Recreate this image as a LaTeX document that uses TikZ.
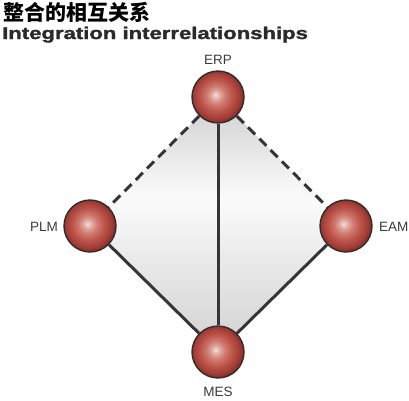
\documentclass[tikz,border=0pt]{standalone}
\usepackage{graphicx}
\usepackage{fontspec}
\setmainfont{Liberation Sans}
\newfontfamily\cjk{Noto Sans CJK SC}
\newfontfamily\heavyfont{Liberation Sans Bold}[FakeBold=1.5]
\definecolor{linegray}{HTML}{353535}
\definecolor{labelgray}{HTML}{3A3A3A}
\definecolor{ballline}{HTML}{2E2E2E}
\definecolor{titlegray}{HTML}{2A2A2A}
\definecolor{bhi}{HTML}{F7E6E2}
\definecolor{bb1}{HTML}{E6B3AB}
\definecolor{bb2}{HTML}{CF7A70}
\definecolor{bb3}{HTML}{BB5249}
\definecolor{bb4}{HTML}{A23D35}
\definecolor{bb5}{HTML}{8A2E28}
\pgfdeclareradialshading{redball}{\pgfpoint{-2.5bp}{2bp}}{%
  color(0bp)=(bhi);
  color(3bp)=(bb1);
  color(9bp)=(bb2);
  color(16bp)=(bb3);
  color(22bp)=(bb4);
  color(25bp)=(bb5);
  color(50bp)=(bb5)}
\pgfdeclareverticalshading{diamondsh}{100bp}{%
  color(0bp)=(black!18);
  color(25bp)=(black!18);
  color(44bp)=(black!8);
  color(54bp)=(black!2);
  color(57bp)=(black!3);
  color(67bp)=(black!12);
  color(75bp)=(black!19);
  color(100bp)=(black!19)}
\tikzset{
  ball/.style={circle, minimum size=52pt, inner sep=0pt, draw=ballline,
    line width=1.4pt, shading=redball},
  lbl/.style={inner sep=0pt, text=labelgray, font=\fontsize{13.5}{14}\selectfont},
  conn/.style={line width=3pt, draw=linegray},
  dashconn/.style={conn, dash pattern=on 10pt off 6pt}
}
\begin{document}
\begin{tikzpicture}[x=1pt,y=-1pt]
\useasboundingbox (0,0) rectangle (409,400);
\coordinate (cerp) at (218,97);
\coordinate (cplm) at (90,226);
\coordinate (ceam) at (346,226);
\coordinate (cmes) at (218,352);
\shade[shading=diamondsh] (cerp) -- (ceam) -- (cmes) -- (cplm) -- cycle;
\node[ball] (erp) at (cerp) {};
\node[ball] (plm) at (cplm) {};
\node[ball] (eam) at (ceam) {};
\node[ball] (mes) at (cmes) {};
\draw[dashconn] (erp) -- (plm);
\draw[dashconn] (erp) -- (eam);
\draw[conn] (plm) -- (mes);
\draw[conn] (eam) -- (mes);
\draw[conn] (erp) -- (mes);
\node[lbl] (erplbl) at (218,60) {ERP};
\node[lbl, anchor=east] (plmlbl) at (58,227) {PLM};
\node[lbl, anchor=west] (eamlbl) at (379,227) {EAM};
\node[lbl] (meslbl) at (218,392) {MES};
\node[anchor=west, inner sep=0pt, font=\cjk\bfseries\fontsize{21}{21}\selectfont] (zh) at (3,12) {整合的相互关系};
\node[anchor=base west, inner sep=0pt, text=titlegray] (en) at (2,39) {\scalebox{1.3}[1]{\heavyfont\fontsize{17}{17}\selectfont Integration interrelationships}};
\end{tikzpicture}
\end{document}
